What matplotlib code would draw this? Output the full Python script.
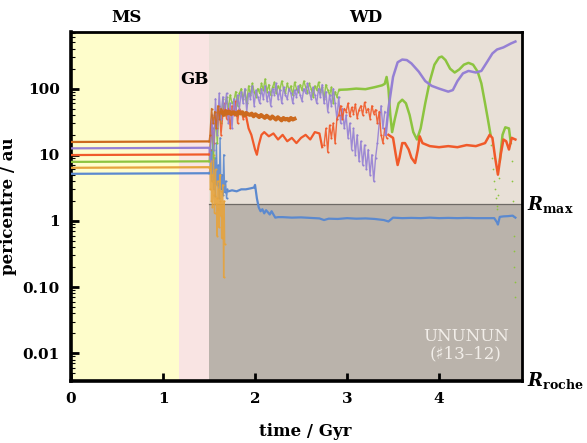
import numpy as np
import matplotlib
matplotlib.use("Agg")
import matplotlib.pyplot as plt

plt.rcParams['font.family'] = ['DejaVu Serif', 'DejaVu Sans']
plt.rcParams['mathtext.fontset'] = 'dejavuserif'

# ---- data ----
x_ticks = [0, 1, 2, 3, 4]
y_ticks = [0.01, 0.1, 1, 10, 100]
y_tick_labels = ['0.01', '0.10', '1', '10', '100']
phase_bounds = [0.0, 1.17, 1.5, 4.9]   # MS | GB | WD
r_max = 1.8

# initial (MS/GB) pericentres
init_blue, init_gold, init_green, init_red, init_purple, init_brown = 5.15, 6.35, 7.8, 9.9, 12.5, 15.6

# blue planet
blue_scatter_t = (1.51, 1.70)
blue_scatter_v = [6, 12, 4, 25, 3, 9, 2.4, 15, 3.5, 7, 2.2, 18, 3, 5, 2.5, 10, 2.7, 4, 2.2, 3]
blue_line_t = [1.71, 1.75, 1.8, 1.85, 1.9, 1.95, 1.99, 2.0, 2.02, 2.04, 2.06, 2.08, 2.1, 2.12, 2.14,
               2.16, 2.18, 2.2, 2.22, 2.25, 2.3, 2.4, 2.5, 2.6, 2.7, 2.75, 2.8, 2.9, 3.0, 3.1, 3.2,
               3.3, 3.4, 3.45, 3.5, 3.6, 3.7, 3.8, 3.9, 4.0, 4.1, 4.2, 4.3, 4.4, 4.5, 4.6, 4.63,
               4.64, 4.66, 4.7, 4.75, 4.8, 4.83]
blue_line_v = [2.8, 2.9, 2.8, 3.0, 3.0, 3.1, 3.2, 3.5, 2.2, 1.6, 1.4, 1.5, 1.3, 1.45, 1.35,
               1.25, 1.4, 1.25, 1.12, 1.14, 1.14, 1.12, 1.13, 1.11, 1.09, 1.03, 1.08, 1.07, 1.1, 1.08, 1.09,
               1.07, 1.03, 0.98, 1.12, 1.1, 1.11, 1.1, 1.12, 1.1, 1.11, 1.1, 1.11, 1.1, 1.1, 1.1, 0.95,
               0.88, 1.15, 1.17, 1.18, 1.2, 1.12]

# gold planet
gold_scatter_t = (1.51, 1.67)
gold_scatter_v = [6, 3, 8, 2, 5, 1.6, 4, 10, 2.5, 1.3, 3.5, 6, 1.8, 2.2, 0.6, 4, 1.5, 3, 0.8, 2,
                  5, 1.2, 2.8, 0.55, 1.7, 3.5, 1.1, 0.14, 2, 0.45]

# green planet
green_scatter_t = (1.51, 2.91)
green_scatter_v = [12, 25, 9, 40, 15, 55, 30, 70, 40, 75, 50, 80, 60, 65, 90, 55, 85, 100, 70, 95,
                   60, 110, 80, 120, 90, 75, 100, 85, 120, 95, 140, 90, 115, 80, 105, 125, 85, 110,
                   95, 130, 100, 85, 120, 95, 110, 80, 125, 100, 90, 115, 95, 130, 105, 85, 120, 100,
                   75, 110, 95, 125, 90, 105, 70, 115, 95, 80, 105, 60, 90, 75, 95]
green_line_t = [2.92, 3.0, 3.1, 3.2, 3.3, 3.38, 3.41, 3.43, 3.45, 3.47, 3.49, 3.52, 3.56, 3.6, 3.64,
                3.68, 3.72, 3.76, 3.8, 3.85, 3.9, 3.95, 4.0, 4.03, 4.07, 4.12, 4.17, 4.22, 4.27,
                4.32, 4.37, 4.42, 4.46, 4.5, 4.53, 4.56]
green_line_v = [96, 97, 100, 98, 105, 112, 118, 150, 100, 40, 22, 35, 60, 68, 60,
                40, 22, 17, 25, 60, 130, 230, 295, 305, 270, 200, 175, 195, 230,
                245, 230, 180, 120, 60, 35, 20]
green_line2_t = [4.66, 4.69, 4.72, 4.76, 4.78]
green_line2_v = [8, 20, 26, 25, 15]
green_drop_t = [4.57, 4.58, 4.59, 4.60, 4.61, 4.62, 4.63, 4.635, 4.64, 4.65,
                4.79, 4.795, 4.80, 4.805, 4.81, 4.815, 4.82, 4.825, 4.83]
green_drop_v = [14, 9, 6, 4, 3, 2.2, 1.7, 1.5, 2.5, 4.5,
                8, 4, 2, 1.2, 0.6, 0.35, 0.2, 0.12, 0.07]

# red planet
red_scatter1_t = (1.51, 1.89)
red_scatter1_v = [12, 30, 15, 45, 25, 55, 20, 40, 60, 35, 50, 25, 55, 40, 65, 30, 50, 45, 35, 40]
red_line1_t = [1.9, 1.93, 1.96, 2.0, 2.02, 2.04, 2.07, 2.1, 2.15, 2.2, 2.25, 2.3, 2.35, 2.4,
               2.45, 2.5, 2.55, 2.6, 2.65, 2.7, 2.73]
red_line1_v = [40, 25, 20, 12, 10, 14, 20, 22, 19, 21, 17, 20, 16, 18, 15, 18, 20, 17, 22, 21, 13]
red_scatter2_t = (2.75, 3.43)
red_scatter2_v = [14, 25, 11, 28, 18, 30, 15, 35, 40, 55, 35, 50, 45, 60, 38, 52, 42, 58, 36, 48,
                  55, 40, 62, 45, 50, 35, 55, 42, 48, 30, 45, 20, 15, 25, 18]
red_line2_t = [3.45, 3.5, 3.53, 3.55, 3.57, 3.6, 3.63, 3.67, 3.7, 3.74, 3.77, 3.79, 3.82, 3.9,
               4.0, 4.1, 4.2, 4.3, 4.4, 4.5, 4.55, 4.58, 4.61, 4.64, 4.67, 4.7, 4.73, 4.76,
               4.79, 4.83]
red_line2_v = [20, 18, 10, 7, 9, 15, 15, 12, 9, 7.5, 12, 19, 15, 13.5,
               13, 13.5, 13, 14, 13.5, 15, 20, 18, 9, 5, 10, 17, 16, 12, 18, 17]

# purple planet
purple_scatter_t = (1.51, 3.41)
purple_scatter_v = [8, 40, 12, 70, 20, 85, 35, 75, 45, 85, 30, 60, 25, 70, 40, 80, 50, 90, 60, 100,
                    45, 85, 70, 110, 55, 95, 75, 60, 100, 70, 110, 65, 90, 55, 100, 80, 120, 70,
                    95, 60, 105, 80, 70, 100, 85, 60, 95, 75, 110, 80, 65, 100, 85, 120, 90, 70,
                    105, 80, 60, 100, 75, 115, 60, 90, 45, 80, 55, 100, 60, 35, 75, 30, 50, 25,
                    40, 18, 30, 12, 25, 10, 20, 8, 16, 7, 14, 6, 12, 5, 10, 4, 9, 15, 30, 55, 25, 45]
purple_line_t = [3.42, 3.45, 3.5, 3.55, 3.6, 3.65, 3.7, 3.78, 3.85, 3.92, 4.0, 4.1, 4.15, 4.2,
                 4.26, 4.32, 4.4, 4.46, 4.52, 4.58, 4.63, 4.7, 4.78, 4.83]
purple_line_v = [20, 50, 150, 250, 275, 270, 240, 180, 130, 110, 100, 90, 95, 130,
                 170, 185, 175, 185, 250, 340, 390, 420, 480, 515]

# brown planet
brown_scatter_t = (1.51, 1.63)
brown_scatter_v = [20, 50, 30, 45, 25, 55, 35, 50]
brown_line_t = (1.64, 2.43)
brown_line_v = [44, 40, 46, 42, 45, 41, 44, 43, 40, 45, 42, 44, 39, 43, 41, 40, 42, 38, 41, 39,
                37, 40, 38, 36, 39, 37, 35, 38, 36, 34, 37, 35, 33, 36, 34, 35, 33, 36, 34, 35]

# ---- colours ----
c_blue, c_gold, c_green = '#5b89cf', '#e6a33c', '#8cc43f'
c_red, c_purple, c_brown = '#f05a2a', '#9580d4', '#cc6a1e'

fig = plt.figure(figsize=(5.87, 4.43), dpi=100)
ax = fig.add_axes([0.121, 0.140, 0.768, 0.788])
ax.set_yscale('log')
ax.set_xlim(0, 4.9)
ax.set_ylim(0.0038, 720)

# phase backgrounds
ax.axvspan(phase_bounds[0], phase_bounds[1], color='#fefdcb', zorder=0, lw=0)
ax.axvspan(phase_bounds[1], phase_bounds[2], color='#f9e4e3', zorder=0, lw=0)
ax.axvspan(phase_bounds[2], phase_bounds[3], color='#e8e0d7', zorder=0, lw=0)
ax.fill_between([phase_bounds[2], phase_bounds[3]], 1e-4, r_max, color='#bab3ab', zorder=0.5, lw=0)
ax.plot([phase_bounds[2], phase_bounds[3]], [r_max, r_max], color='#6e6a66', lw=0.9, zorder=0.6)


def lin(span, vals):
    return np.linspace(span[0], span[1], len(vals))


series = [
    (c_blue, init_blue, blue_scatter_t, blue_scatter_v),
    (c_gold, init_gold, gold_scatter_t, gold_scatter_v),
    (c_green, init_green, green_scatter_t, green_scatter_v),
    (c_red, init_red, red_scatter1_t, red_scatter1_v),
    (c_purple, init_purple, purple_scatter_t, purple_scatter_v),
    (c_brown, init_brown, brown_scatter_t, brown_scatter_v),
]

# MS/GB constant lines
for col, v0, _, _ in series:
    ax.plot([0, 1.5], [v0, v0 * 1.02], color=col, lw=1.6, zorder=3)

# noisy clouds
for col, v0, span, vals in series:
    t = lin(span, vals)
    ax.plot(np.r_[1.5, t], np.r_[v0, vals], color=col, lw=1.0, alpha=0.9, zorder=2)
    ax.plot(t, vals, '.', color=col, ms=3, mew=0, zorder=2)

ax.plot(lin(red_scatter2_t, red_scatter2_v), red_scatter2_v, color=c_red, lw=1.0, alpha=0.9, zorder=2)
ax.plot(lin(red_scatter2_t, red_scatter2_v), red_scatter2_v, '.', color=c_red, ms=3, mew=0, zorder=2)

# smoother tracks
ax.plot(blue_line_t, blue_line_v, color=c_blue, lw=1.6, zorder=4)
ax.plot(green_line_t, green_line_v, color=c_green, lw=1.8, zorder=3)
ax.plot(green_line2_t, green_line2_v, color=c_green, lw=1.8, zorder=3)
ax.plot(green_drop_t, green_drop_v, '.', color=c_green, ms=2.5, mew=0, zorder=3)
ax.plot(red_line1_t, red_line1_v, color=c_red, lw=1.6, zorder=3)
ax.plot(red_line2_t, red_line2_v, color=c_red, lw=1.8, zorder=3)
ax.plot(purple_line_t, purple_line_v, color=c_purple, lw=1.8, zorder=3)
ax.plot(lin(brown_line_t, brown_line_v), brown_line_v, color=c_brown, lw=2.8, zorder=3)

# axes styling
for s in ax.spines.values():
    s.set_linewidth(2.6)
    s.set_color('black')
ax.spines['right'].set_linewidth(2.0)
ax.spines['top'].set_linewidth(2.0)
ax.set_xticks(x_ticks)
ax.set_xticklabels([str(v) for v in x_ticks], fontweight='bold', fontsize=11)
ax.set_yticks(y_ticks)
ax.set_yticklabels(y_tick_labels, fontweight='bold', fontsize=11)
ax.tick_params(which='major', direction='in', length=6, width=2, top=False, right=False, pad=8)
ax.tick_params(which='minor', direction='in', length=3, width=0.8, top=False, right=False)
ax.xaxis.set_minor_locator(matplotlib.ticker.NullLocator())

ax.set_xlabel('time / Gyr', fontweight='bold', fontsize=12, labelpad=6)
ax.xaxis.set_label_coords(0.52, -0.12)
ax.set_ylabel('pericentre / au', fontweight='bold', fontsize=12, labelpad=4)

# phase labels
ax.text(0.6, 1.018, 'MS', transform=ax.get_xaxis_transform(), ha='center', va='bottom',
        fontweight='bold', fontsize=12)
ax.text(3.2, 1.018, 'WD', transform=ax.get_xaxis_transform(), ha='center', va='bottom',
        fontweight='bold', fontsize=12)
ax.text(1.34, 137, 'GB', ha='center', va='center', fontweight='bold', fontsize=12)

# R labels
ax.text(1.012, r_max, r'$\mathbfit{R}_{\mathbf{max}}$', transform=ax.get_yaxis_transform(),
        ha='left', va='center', fontsize=13)
ax.text(1.012, 0.0038, r'$\mathbfit{R}_{\mathbf{roche}}$', transform=ax.get_yaxis_transform(),
        ha='left', va='center', fontsize=13)

ax.text(0.876, 0.128, 'UNUNUN', transform=ax.transAxes, ha='center', va='center',
        color='#f2eee9', fontsize=12)
ax.text(0.876, 0.078, '(\u266f13\u201312)', transform=ax.transAxes, ha='center', va='center',
        color='#f2eee9', fontsize=12, family=['DejaVu Serif', 'DejaVu Sans'])

fig.savefig('out.png', dpi=100)
